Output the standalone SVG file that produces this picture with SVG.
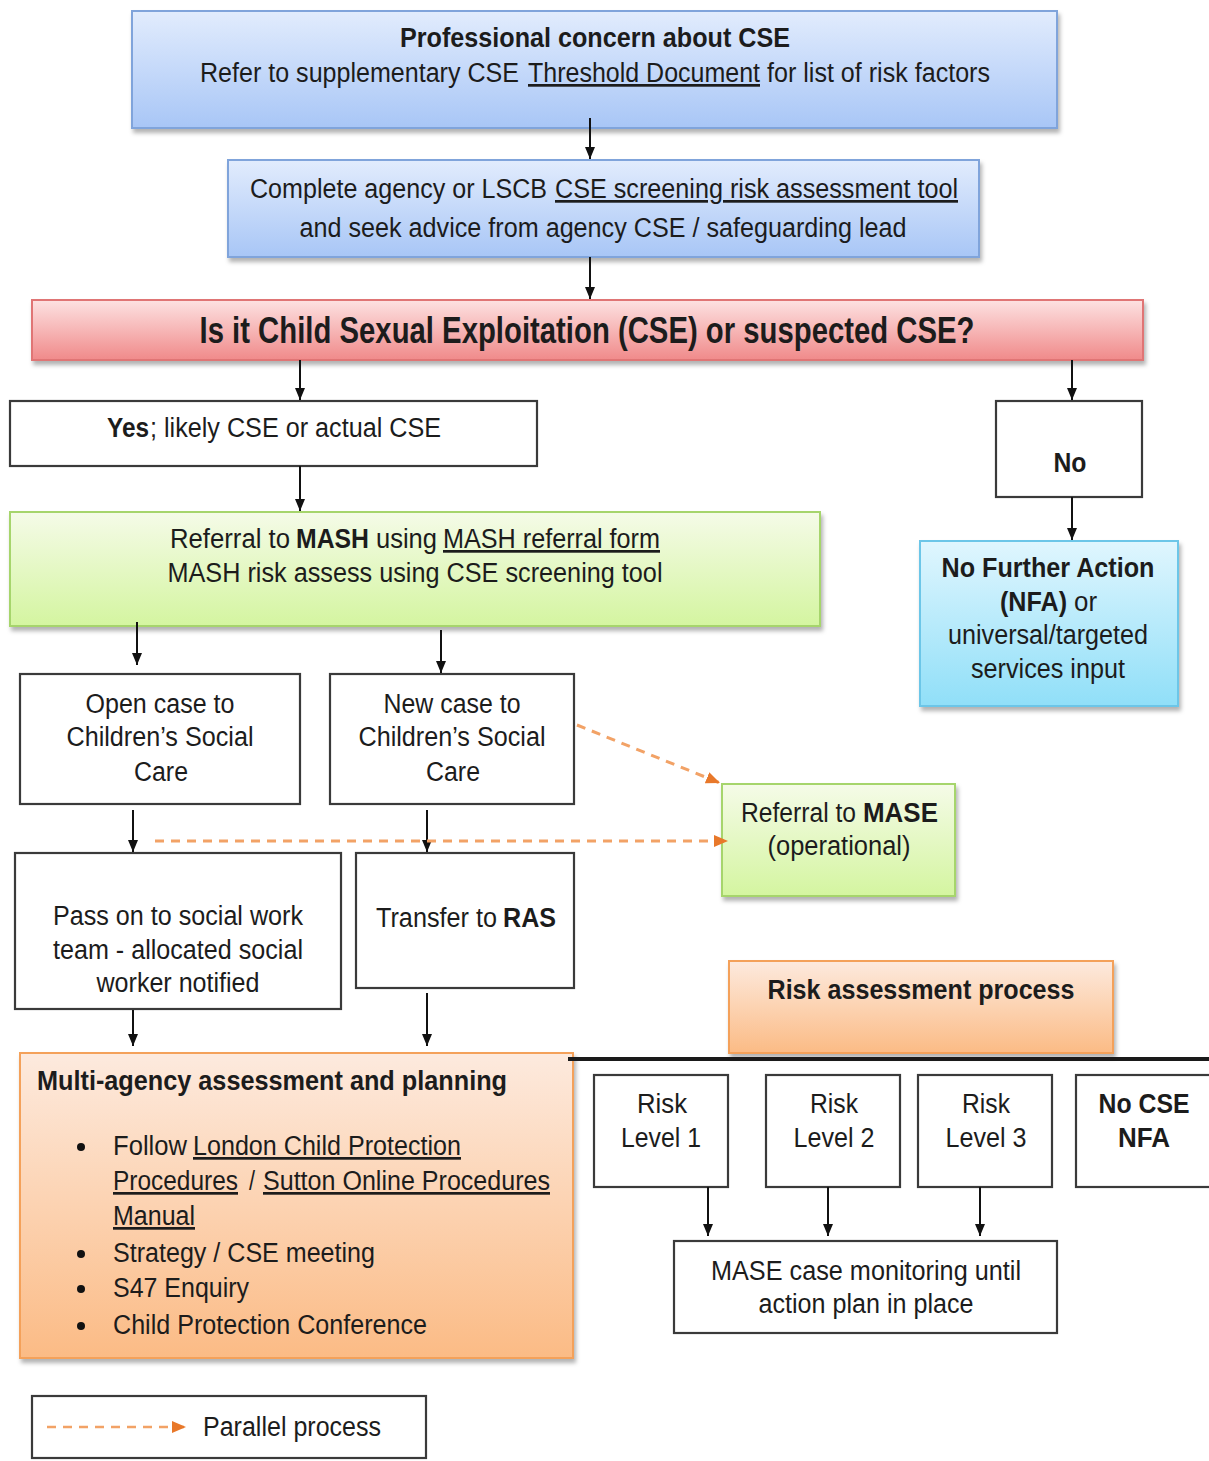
<svg xmlns="http://www.w3.org/2000/svg" width="1209" height="1461" viewBox="0 0 1209 1461">
  <defs>
    <linearGradient id="gBlue" x1="0" y1="0" x2="0" y2="1">
      <stop offset="0" stop-color="#e2ecfd"/>
      <stop offset="1" stop-color="#a8c6f6"/>
    </linearGradient>
    <linearGradient id="gRed" x1="0" y1="0" x2="0" y2="1">
      <stop offset="0" stop-color="#fde2e2"/>
      <stop offset="1" stop-color="#f08a8a"/>
    </linearGradient>
    <linearGradient id="gGreen" x1="0" y1="0" x2="0" y2="1">
      <stop offset="0" stop-color="#f5fbe8"/>
      <stop offset="1" stop-color="#d4f5a0"/>
    </linearGradient>
    <linearGradient id="gCyan" x1="0" y1="0" x2="0" y2="1">
      <stop offset="0" stop-color="#e0f6fe"/>
      <stop offset="1" stop-color="#90dff8"/>
    </linearGradient>
    <linearGradient id="gOrange" x1="0" y1="0" x2="0" y2="1">
      <stop offset="0" stop-color="#fdeade"/>
      <stop offset="1" stop-color="#fbbb85"/>
    </linearGradient>
    <filter id="shadow" x="-5%" y="-10%" width="112%" height="130%">
      <feDropShadow dx="2" dy="4" stdDeviation="2" flood-color="#000" flood-opacity="0.3"/>
    </filter>
    <marker id="arrow" viewBox="0 0 12 10" refX="12" refY="5" markerWidth="12" markerHeight="10" markerUnits="userSpaceOnUse" orient="auto">
      <path d="M0,0 L12,5 L0,10 z" fill="#111"/>
    </marker>
    <marker id="arrowOrange" viewBox="0 0 14 12" refX="14" refY="6" markerWidth="14" markerHeight="12" markerUnits="userSpaceOnUse" orient="auto">
      <path d="M0,0 L14,6 L0,12 z" fill="#e8782a"/>
    </marker>
    <style>
      text { font-family: "Liberation Sans", Arial, sans-serif; fill: #1c1c1c; font-size: 27px; }
      .c { text-anchor: middle; }
      .b { font-weight: bold; }
      .u { text-decoration: underline; }
      .plain { fill: #ffffff; stroke: #3a3a3a; stroke-width: 2.2; }
      .blue { fill: url(#gBlue); stroke: #80a4db; stroke-width: 2; filter: url(#shadow); }
      .red { fill: url(#gRed); stroke: #e07474; stroke-width: 2; filter: url(#shadow); }
      .green { fill: url(#gGreen); stroke: #a6d56c; stroke-width: 2; filter: url(#shadow); }
      .cyan { fill: url(#gCyan); stroke: #6cc6e8; stroke-width: 2; filter: url(#shadow); }
      .orange { fill: url(#gOrange); stroke: #f4a15a; stroke-width: 2; filter: url(#shadow); }
      .conn { stroke: #111; stroke-width: 2; fill: none; marker-end: url(#arrow); }
      .par { stroke: #f2a266; stroke-width: 3; stroke-dasharray: 9 7; fill: none; marker-end: url(#arrowOrange); }
    </style>
  </defs>

  <g id="concern">
    <rect class="blue" x="132" y="11" width="925" height="117"/>
    <text class="c b" x="595" y="47" textLength="390" lengthAdjust="spacingAndGlyphs">Professional concern about CSE</text>
    <text x="200" y="82" textLength="319" lengthAdjust="spacingAndGlyphs">Refer to supplementary CSE</text>
    <text class="u" x="528" y="82" textLength="232" lengthAdjust="spacingAndGlyphs">Threshold Document</text>
    <text x="767" y="82" textLength="223" lengthAdjust="spacingAndGlyphs">for list of risk factors</text>
  </g>

  <g id="screening">
    <rect class="blue" x="228" y="160" width="751" height="97"/>
    <text x="250" y="198" textLength="297" lengthAdjust="spacingAndGlyphs">Complete agency or LSCB</text>
    <text class="u" x="555" y="198" textLength="403" lengthAdjust="spacingAndGlyphs">CSE screening risk assessment tool</text>
    <text class="c" x="603" y="237" textLength="607" lengthAdjust="spacingAndGlyphs">and seek advice from agency CSE / safeguarding lead</text>
  </g>

  <g id="question">
    <rect class="red" x="32" y="300" width="1111" height="60"/>
    <text class="c b" x="587" y="343" style="font-size:36px" textLength="775" lengthAdjust="spacingAndGlyphs">Is it Child Sexual Exploitation (CSE) or suspected CSE?</text>
  </g>

  <g id="yes">
    <rect class="plain" x="10" y="401" width="527" height="65"/>
    <text class="b" x="107" y="437" textLength="42" lengthAdjust="spacingAndGlyphs">Yes</text>
    <text x="150" y="437" textLength="291" lengthAdjust="spacingAndGlyphs">; likely CSE or actual CSE</text>
  </g>

  <g id="no">
    <rect class="plain" x="996" y="401" width="146" height="96"/>
    <text class="c b" x="1070" y="472" textLength="33" lengthAdjust="spacingAndGlyphs">No</text>
  </g>

  <g id="nfa">
    <rect class="cyan" x="920" y="541" width="258" height="165"/>
    <text class="c b" x="1048" y="577" textLength="213" lengthAdjust="spacingAndGlyphs">No Further Action</text>
    <text class="b" x="1000" y="611" textLength="67" lengthAdjust="spacingAndGlyphs">(NFA)</text>
    <text x="1074" y="611" textLength="23" lengthAdjust="spacingAndGlyphs">or</text>
    <text class="c" x="1048" y="644" textLength="200" lengthAdjust="spacingAndGlyphs">universal/targeted</text>
    <text class="c" x="1048" y="678" textLength="154" lengthAdjust="spacingAndGlyphs">services input</text>
  </g>

  <g id="mash">
    <rect class="green" x="10" y="512" width="810" height="114"/>
    <text x="170" y="548" textLength="120" lengthAdjust="spacingAndGlyphs">Referral to</text>
    <text class="b" x="296" y="548" textLength="73" lengthAdjust="spacingAndGlyphs">MASH</text>
    <text x="376" y="548" textLength="61" lengthAdjust="spacingAndGlyphs">using</text>
    <text class="u" x="443" y="548" textLength="217" lengthAdjust="spacingAndGlyphs">MASH referral form</text>
    <text class="c" x="415" y="582" textLength="495" lengthAdjust="spacingAndGlyphs">MASH risk assess using CSE screening tool</text>
  </g>

  <g id="open-case">
    <rect class="plain" x="20" y="674" width="280" height="130"/>
    <text class="c" x="160" y="713" textLength="149" lengthAdjust="spacingAndGlyphs">Open case to</text>
    <text class="c" x="160" y="746" textLength="187" lengthAdjust="spacingAndGlyphs">Children’s Social</text>
    <text class="c" x="161" y="781" textLength="54" lengthAdjust="spacingAndGlyphs">Care</text>
  </g>

  <g id="new-case">
    <rect class="plain" x="330" y="674" width="244" height="130"/>
    <text class="c" x="452" y="713" textLength="137" lengthAdjust="spacingAndGlyphs">New case to</text>
    <text class="c" x="452" y="746" textLength="187" lengthAdjust="spacingAndGlyphs">Children’s Social</text>
    <text class="c" x="453" y="781" textLength="54" lengthAdjust="spacingAndGlyphs">Care</text>
  </g>

  <g id="mase-referral">
    <rect class="green" x="722" y="784" width="233" height="112"/>
    <text x="741" y="822" textLength="115" lengthAdjust="spacingAndGlyphs">Referral to</text>
    <text class="b" x="863" y="822" textLength="75" lengthAdjust="spacingAndGlyphs">MASE</text>
    <text class="c" x="839" y="855" textLength="143" lengthAdjust="spacingAndGlyphs">(operational)</text>
  </g>

  <g id="pass-on">
    <rect class="plain" x="15" y="853" width="326" height="156"/>
    <text class="c" x="178" y="925" textLength="250" lengthAdjust="spacingAndGlyphs">Pass on to social work</text>
    <text class="c" x="178" y="959" textLength="250" lengthAdjust="spacingAndGlyphs">team - allocated social</text>
    <text class="c" x="178" y="992" textLength="163" lengthAdjust="spacingAndGlyphs">worker notified</text>
  </g>

  <g id="transfer">
    <rect class="plain" x="356" y="853" width="218" height="135"/>
    <text x="376" y="927" textLength="121" lengthAdjust="spacingAndGlyphs">Transfer to</text>
    <text class="b" x="503" y="927" textLength="53" lengthAdjust="spacingAndGlyphs">RAS</text>
  </g>

  <g id="risk-process">
    <rect class="orange" x="729" y="961" width="384" height="92"/>
    <text class="c b" x="921" y="999" textLength="307" lengthAdjust="spacingAndGlyphs">Risk assessment process</text>
  </g>

  <g id="multi-agency">
    <rect class="orange" x="20" y="1053" width="553" height="305"/>
    <text class="b" x="37" y="1090" textLength="470" lengthAdjust="spacingAndGlyphs">Multi-agency assessment and planning</text>
    <g fill="#111">
      <circle cx="81" cy="1147" r="4"/>
      <circle cx="81" cy="1254" r="4"/>
      <circle cx="81" cy="1289" r="4"/>
      <circle cx="81" cy="1326" r="4"/>
    </g>
    <text x="113" y="1155" textLength="74" lengthAdjust="spacingAndGlyphs">Follow</text>
    <text class="u" x="193" y="1155" textLength="268" lengthAdjust="spacingAndGlyphs">London Child Protection</text>
    <text class="u" x="113" y="1190" textLength="125" lengthAdjust="spacingAndGlyphs">Procedures</text>
    <text x="249" y="1190" textLength="6" lengthAdjust="spacingAndGlyphs">/</text>
    <text class="u" x="263" y="1190" textLength="287" lengthAdjust="spacingAndGlyphs">Sutton Online Procedures</text>
    <text class="u" x="113" y="1225" textLength="82" lengthAdjust="spacingAndGlyphs">Manual</text>
    <text x="113" y="1262" textLength="262" lengthAdjust="spacingAndGlyphs">Strategy / CSE meeting</text>
    <text x="113" y="1297" textLength="136" lengthAdjust="spacingAndGlyphs">S47 Enquiry</text>
    <text x="113" y="1334" textLength="314" lengthAdjust="spacingAndGlyphs">Child Protection Conference</text>
  </g>

  <g id="risk-1">
    <rect class="plain" x="594" y="1075" width="134" height="112"/>
    <text class="c" x="662" y="1113" textLength="50" lengthAdjust="spacingAndGlyphs">Risk</text>
    <text class="c" x="661" y="1147" textLength="80" lengthAdjust="spacingAndGlyphs">Level 1</text>
  </g>

  <g id="risk-2">
    <rect class="plain" x="766" y="1075" width="134" height="112"/>
    <text class="c" x="834" y="1113" textLength="48" lengthAdjust="spacingAndGlyphs">Risk</text>
    <text class="c" x="834" y="1147" textLength="81" lengthAdjust="spacingAndGlyphs">Level 2</text>
  </g>

  <g id="risk-3">
    <rect class="plain" x="918" y="1075" width="134" height="112"/>
    <text class="c" x="986" y="1113" textLength="48" lengthAdjust="spacingAndGlyphs">Risk</text>
    <text class="c" x="986" y="1147" textLength="81" lengthAdjust="spacingAndGlyphs">Level 3</text>
  </g>

  <g id="no-cse">
    <rect class="plain" x="1076" y="1075" width="140" height="112"/>
    <text class="c b" x="1144" y="1113" textLength="91" lengthAdjust="spacingAndGlyphs">No CSE</text>
    <text class="c b" x="1144" y="1147" textLength="52" lengthAdjust="spacingAndGlyphs">NFA</text>
  </g>

  <g id="mase-monitoring">
    <rect class="plain" x="674" y="1241" width="383" height="92"/>
    <text class="c" x="866" y="1280" textLength="310" lengthAdjust="spacingAndGlyphs">MASE case monitoring until</text>
    <text class="c" x="866" y="1313" textLength="215" lengthAdjust="spacingAndGlyphs">action plan in place</text>
  </g>

  <g id="legend">
    <rect class="plain" x="32" y="1396" width="394" height="62"/>
    <line class="par" x1="47" y1="1427" x2="186" y2="1427" style="stroke-width:2.5"/>
    <text x="203" y="1436" textLength="178" lengthAdjust="spacingAndGlyphs">Parallel process</text>
  </g>

  <!-- Connectors, drawn over the boxes they leave -->
  <g id="connectors">
    <line class="conn" x1="590" y1="118" x2="590" y2="159"/>
    <line class="conn" x1="590" y1="257" x2="590" y2="299"/>
    <line class="conn" x1="300" y1="360" x2="300" y2="400"/>
    <line class="conn" x1="1072" y1="360" x2="1072" y2="400"/>
    <line class="conn" x1="300" y1="466" x2="300" y2="511"/>
    <line class="conn" x1="1072" y1="497" x2="1072" y2="540"/>
    <line class="conn" x1="137" y1="622" x2="137" y2="665"/>
    <line class="conn" x1="441" y1="630" x2="441" y2="673"/>
    <line class="conn" x1="133" y1="810" x2="133" y2="852"/>
    <line class="conn" x1="427" y1="810" x2="427" y2="852"/>
    <line class="conn" x1="133" y1="1010" x2="133" y2="1046"/>
    <line class="conn" x1="427" y1="993" x2="427" y2="1046"/>
    <line class="conn" x1="708" y1="1187" x2="708" y2="1236"/>
    <line class="conn" x1="828" y1="1187" x2="828" y2="1236"/>
    <line class="conn" x1="980" y1="1187" x2="980" y2="1236"/>
    <!-- parallel process links -->
    <line class="par" x1="577" y1="725" x2="720" y2="783"/>
    <line class="par" x1="155" y1="841" x2="728" y2="841"/>
    <!-- divider under risk assessment process -->
    <line x1="568" y1="1059" x2="1209" y2="1059" stroke="#1a1a1a" stroke-width="4"/>
  </g>
</svg>
